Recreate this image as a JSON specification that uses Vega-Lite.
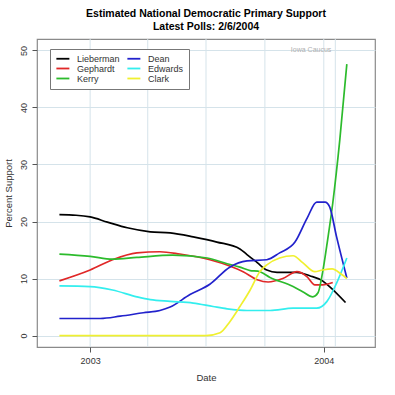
{
  "$schema": "https://vega.github.io/schema/vega-lite/v6.json",
  "width": 338,
  "height": 308,
  "autosize": "none",
  "padding": {"left": 37, "top": 39, "right": 20, "bottom": 48},
  "background": "white",
  "title": {
    "text": ["Estimated National Democratic Primary Support", "Latest Polls: 2/6/2004"],
    "fontSize": 10.5,
    "fontWeight": "bold",
    "font": "Liberation Sans",
    "color": "#000000",
    "anchor": "middle",
    "frame": "group",
    "offset": 6,
    "lineHeight": 13
  },
  "config": {
    "view": {"stroke": "#8a8a8a", "strokeWidth": 1.2},
    "font": "Liberation Sans"
  },
  "datasets": {
    "polls": [
      {"candidate": "Lieberman", "date": "2002-11-14", "pct": 21.2},
      {"candidate": "Lieberman", "date": "2002-12-10", "pct": 21.1},
      {"candidate": "Lieberman", "date": "2003-01-01", "pct": 20.8},
      {"candidate": "Lieberman", "date": "2003-01-28", "pct": 19.9},
      {"candidate": "Lieberman", "date": "2003-02-28", "pct": 18.9},
      {"candidate": "Lieberman", "date": "2003-04-05", "pct": 18.2},
      {"candidate": "Lieberman", "date": "2003-05-06", "pct": 18.0},
      {"candidate": "Lieberman", "date": "2003-06-11", "pct": 17.3},
      {"candidate": "Lieberman", "date": "2003-07-18", "pct": 16.4},
      {"candidate": "Lieberman", "date": "2003-08-23", "pct": 15.2},
      {"candidate": "Lieberman", "date": "2003-09-03", "pct": 14.2},
      {"candidate": "Lieberman", "date": "2003-09-19", "pct": 12.8},
      {"candidate": "Lieberman", "date": "2003-10-04", "pct": 11.5},
      {"candidate": "Lieberman", "date": "2003-10-20", "pct": 11.1},
      {"candidate": "Lieberman", "date": "2003-11-20", "pct": 11.1},
      {"candidate": "Lieberman", "date": "2003-12-10", "pct": 10.5},
      {"candidate": "Lieberman", "date": "2003-12-30", "pct": 9.6},
      {"candidate": "Lieberman", "date": "2004-01-10", "pct": 8.6},
      {"candidate": "Lieberman", "date": "2004-02-04", "pct": 5.8},
      {"candidate": "Gephardt", "date": "2002-11-14", "pct": 9.6},
      {"candidate": "Gephardt", "date": "2003-01-01", "pct": 11.5},
      {"candidate": "Gephardt", "date": "2003-02-05", "pct": 13.3},
      {"candidate": "Gephardt", "date": "2003-03-15", "pct": 14.5},
      {"candidate": "Gephardt", "date": "2003-04-20", "pct": 14.7},
      {"candidate": "Gephardt", "date": "2003-05-21", "pct": 14.3},
      {"candidate": "Gephardt", "date": "2003-07-07", "pct": 13.3},
      {"candidate": "Gephardt", "date": "2003-08-07", "pct": 12.2},
      {"candidate": "Gephardt", "date": "2003-08-28", "pct": 11.2},
      {"candidate": "Gephardt", "date": "2003-09-19", "pct": 9.8},
      {"candidate": "Gephardt", "date": "2003-10-06", "pct": 9.4},
      {"candidate": "Gephardt", "date": "2003-10-29", "pct": 10.0},
      {"candidate": "Gephardt", "date": "2003-11-20", "pct": 11.2},
      {"candidate": "Gephardt", "date": "2003-12-06", "pct": 10.3},
      {"candidate": "Gephardt", "date": "2003-12-18", "pct": 8.9},
      {"candidate": "Gephardt", "date": "2003-12-30", "pct": 8.9},
      {"candidate": "Gephardt", "date": "2004-01-15", "pct": 9.3},
      {"candidate": "Kerry", "date": "2002-11-14", "pct": 14.3},
      {"candidate": "Kerry", "date": "2003-01-01", "pct": 13.9},
      {"candidate": "Kerry", "date": "2003-02-05", "pct": 13.4},
      {"candidate": "Kerry", "date": "2003-03-15", "pct": 13.7},
      {"candidate": "Kerry", "date": "2003-05-10", "pct": 14.1},
      {"candidate": "Kerry", "date": "2003-07-03", "pct": 13.6},
      {"candidate": "Kerry", "date": "2003-08-03", "pct": 12.6},
      {"candidate": "Kerry", "date": "2003-08-23", "pct": 12.0},
      {"candidate": "Kerry", "date": "2003-09-08", "pct": 11.4},
      {"candidate": "Kerry", "date": "2003-09-20", "pct": 11.3},
      {"candidate": "Kerry", "date": "2003-10-09", "pct": 10.2},
      {"candidate": "Kerry", "date": "2003-11-14", "pct": 8.6},
      {"candidate": "Kerry", "date": "2003-11-29", "pct": 7.7},
      {"candidate": "Kerry", "date": "2003-12-15", "pct": 6.8},
      {"candidate": "Kerry", "date": "2003-12-23", "pct": 7.5},
      {"candidate": "Kerry", "date": "2003-12-30", "pct": 11.0},
      {"candidate": "Kerry", "date": "2004-01-07", "pct": 16.8},
      {"candidate": "Kerry", "date": "2004-01-15", "pct": 23.2},
      {"candidate": "Kerry", "date": "2004-01-26", "pct": 34.3},
      {"candidate": "Kerry", "date": "2004-02-06", "pct": 47.6},
      {"candidate": "Dean", "date": "2002-11-14", "pct": 3.0},
      {"candidate": "Dean", "date": "2003-01-17", "pct": 3.0},
      {"candidate": "Dean", "date": "2003-02-17", "pct": 3.4},
      {"candidate": "Dean", "date": "2003-03-25", "pct": 4.0},
      {"candidate": "Dean", "date": "2003-04-20", "pct": 4.4},
      {"candidate": "Dean", "date": "2003-05-06", "pct": 5.0},
      {"candidate": "Dean", "date": "2003-06-06", "pct": 7.2},
      {"candidate": "Dean", "date": "2003-07-07", "pct": 9.0},
      {"candidate": "Dean", "date": "2003-08-07", "pct": 12.0},
      {"candidate": "Dean", "date": "2003-09-03", "pct": 13.1},
      {"candidate": "Dean", "date": "2003-10-04", "pct": 13.3},
      {"candidate": "Dean", "date": "2003-10-24", "pct": 14.5},
      {"candidate": "Dean", "date": "2003-11-17", "pct": 16.4},
      {"candidate": "Dean", "date": "2003-12-06", "pct": 20.6},
      {"candidate": "Dean", "date": "2003-12-21", "pct": 23.4},
      {"candidate": "Dean", "date": "2004-01-03", "pct": 23.4},
      {"candidate": "Dean", "date": "2004-01-10", "pct": 22.6},
      {"candidate": "Dean", "date": "2004-01-21", "pct": 17.3},
      {"candidate": "Dean", "date": "2004-02-06", "pct": 10.1},
      {"candidate": "Edwards", "date": "2002-11-14", "pct": 8.7},
      {"candidate": "Edwards", "date": "2003-01-01", "pct": 8.6},
      {"candidate": "Edwards", "date": "2003-02-05", "pct": 8.0},
      {"candidate": "Edwards", "date": "2003-03-15", "pct": 6.8},
      {"candidate": "Edwards", "date": "2003-04-05", "pct": 6.3},
      {"candidate": "Edwards", "date": "2003-05-06", "pct": 6.0},
      {"candidate": "Edwards", "date": "2003-06-11", "pct": 5.7},
      {"candidate": "Edwards", "date": "2003-07-12", "pct": 5.1},
      {"candidate": "Edwards", "date": "2003-08-03", "pct": 4.7},
      {"candidate": "Edwards", "date": "2003-09-03", "pct": 4.4},
      {"candidate": "Edwards", "date": "2003-10-09", "pct": 4.4},
      {"candidate": "Edwards", "date": "2003-11-14", "pct": 4.8},
      {"candidate": "Edwards", "date": "2003-12-21", "pct": 4.8},
      {"candidate": "Edwards", "date": "2004-01-06", "pct": 6.0},
      {"candidate": "Edwards", "date": "2004-01-21", "pct": 9.2},
      {"candidate": "Edwards", "date": "2004-02-06", "pct": 13.6},
      {"candidate": "Clark", "date": "2002-11-14", "pct": 0.0},
      {"candidate": "Clark", "date": "2003-07-01", "pct": 0.0},
      {"candidate": "Clark", "date": "2003-07-23", "pct": 0.5},
      {"candidate": "Clark", "date": "2003-08-07", "pct": 2.4},
      {"candidate": "Clark", "date": "2003-08-23", "pct": 5.1},
      {"candidate": "Clark", "date": "2003-09-08", "pct": 8.0},
      {"candidate": "Clark", "date": "2003-09-23", "pct": 11.2},
      {"candidate": "Clark", "date": "2003-10-04", "pct": 12.4},
      {"candidate": "Clark", "date": "2003-10-24", "pct": 13.6},
      {"candidate": "Clark", "date": "2003-11-14", "pct": 14.0},
      {"candidate": "Clark", "date": "2003-11-29", "pct": 12.8},
      {"candidate": "Clark", "date": "2003-12-18", "pct": 11.2},
      {"candidate": "Clark", "date": "2003-12-30", "pct": 11.5},
      {"candidate": "Clark", "date": "2004-01-14", "pct": 11.7},
      {"candidate": "Clark", "date": "2004-01-29", "pct": 10.7},
      {"candidate": "Clark", "date": "2004-02-06", "pct": 10.0}
    ],
    "vgrid": [
      {"date": "2003-01-01"},
      {"date": "2003-04-01"},
      {"date": "2003-07-01"},
      {"date": "2003-10-01"},
      {"date": "2004-01-01"},
      {"date": "2004-01-19"}
    ],
    "notes": [
      {"date": "2004-01-19", "pct": 50, "label": "Iowa Caucus"}
    ]
  },
  "layer": [
    {
      "data": {"name": "vgrid"},
      "mark": {"type": "rule", "color": "#d5e3ea", "strokeWidth": 1},
      "encoding": {
        "x": {
          "field": "date", "type": "temporal",
          "scale": {"type": "utc", "domain": [{"year": 2002, "month": 10, "date": 10, "utc": true}, {"year": 2004, "month": 3, "date": 21, "utc": true}]},
          "axis": {
            "values": [{"year": 2003, "month": 1, "date": 1, "utc": true}, {"year": 2004, "month": 1, "date": 1, "utc": true}],
            "format": "%Y",
            "grid": false,
            "domain": false,
            "tickColor": "#555555",
            "tickSize": 5,
            "labelFontSize": 9,
            "labelColor": "#333333",
            "labelPadding": 4,
            "title": "Date",
            "titleFontSize": 9.5,
            "titleFontWeight": "normal",
            "titleColor": "#333333",
            "titlePadding": 7
          }
        }
      }
    },
    {
      "data": {"name": "polls"},
      "mark": {"type": "line", "strokeWidth": 1.7, "interpolate": "monotone"},
      "encoding": {
        "x": {"field": "date", "type": "temporal", "scale": {"type": "utc", "domain": [{"year": 2002, "month": 10, "date": 10, "utc": true}, {"year": 2004, "month": 3, "date": 21, "utc": true}]}},
        "y": {
          "field": "pct", "type": "quantitative",
          "scale": {"domain": [-2, 52], "nice": false, "zero": false},
          "axis": {
            "values": [0, 10, 20, 30, 40, 50],
            "grid": true,
            "gridColor": "#d5e3ea",
            "domain": false,
            "tickColor": "#555555",
            "tickSize": 5,
            "labelAngle": -90,
            "labelAlign": "center",
            "labelBaseline": "bottom",
            "labelFontSize": 9,
            "labelColor": "#333333",
            "labelPadding": 4,
            "title": "Percent Support",
            "titleFontSize": 9.5,
            "titleFontWeight": "normal",
            "titleColor": "#333333",
            "titlePadding": 6
          }
        },
        "color": {
          "field": "candidate", "type": "nominal",
          "scale": {
            "domain": ["Lieberman", "Gephardt", "Kerry", "Dean", "Edwards", "Clark"],
            "range": ["#000000", "#e02828", "#2cbb2c", "#2222cc", "#33eeee", "#f0f030"]
          },
          "legend": {
            "orient": "none",
            "legendX": 13,
            "legendY": 10,
            "columns": 2,
            "title": null,
            "symbolType": "M-1.2,0H3.8",
            "symbolSize": 27,
            "symbolStrokeWidth": 1.8,
            "labelFontSize": 9,
            "labelColor": "#333333",
            "labelOffset": 13,
            "labelLimit": 0,
            "rowPadding": 0,
            "columnPadding": 3,
            "padding": 5,
            "strokeColor": "#777777",
            "fillColor": "#ffffff"
          }
        }
      }
    },
    {
      "data": {"name": "notes"},
      "mark": {"type": "text", "align": "right", "baseline": "middle", "dx": -4, "fontSize": 7, "color": "#b0b0b0"},
      "encoding": {
        "x": {"field": "date", "type": "temporal", "scale": {"type": "utc", "domain": [{"year": 2002, "month": 10, "date": 10, "utc": true}, {"year": 2004, "month": 3, "date": 21, "utc": true}]}},
        "y": {"field": "pct", "type": "quantitative"},
        "text": {"field": "label"}
      }
    }
  ]
}
